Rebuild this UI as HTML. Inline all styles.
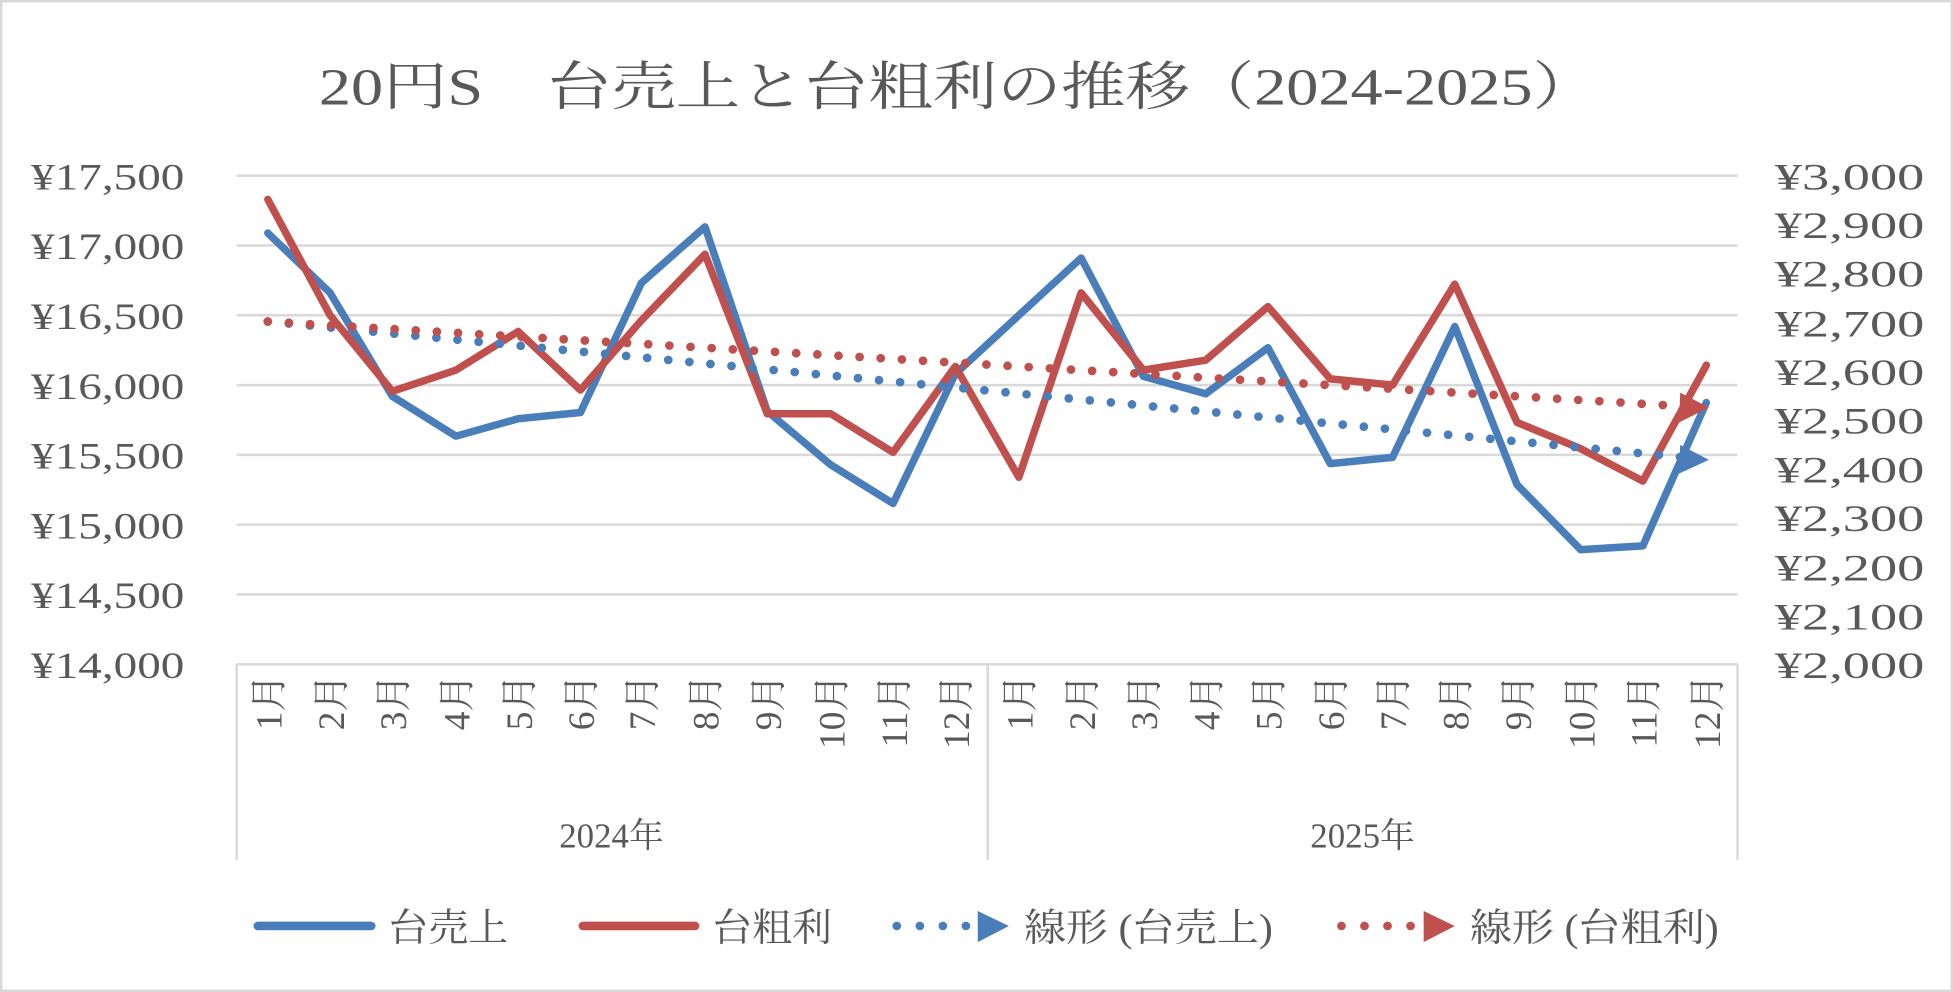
<!DOCTYPE html>
<html><head><meta charset="utf-8"><style>
html,body{margin:0;padding:0;background:#fff}
svg{display:block}
text{font-family:"Liberation Serif","Noto Serif CJK JP",serif;fill:#595959}
</style></head><body>
<svg width="1953" height="992" viewBox="0 0 1568 796" preserveAspectRatio="none" xmlns="http://www.w3.org/2000/svg">
<rect x="1" y="1" width="1566" height="794" fill="#fff" stroke="#d9d9d9" stroke-width="2"/>
<text x="256" y="84" font-size="42" textLength="1026" lengthAdjust="spacingAndGlyphs">20円S　台売上と台粗利の推移（2024-2025）</text>
<g stroke="#d9d9d9" stroke-width="2">
<line x1="190" y1="141" x2="1395" y2="141"/>
<line x1="190" y1="197" x2="1395" y2="197"/>
<line x1="190" y1="253" x2="1395" y2="253"/>
<line x1="190" y1="309" x2="1395" y2="309"/>
<line x1="190" y1="365" x2="1395" y2="365"/>
<line x1="190" y1="421" x2="1395" y2="421"/>
<line x1="190" y1="477" x2="1395" y2="477"/>
<line x1="190" y1="533" x2="1395" y2="533"/>
<line x1="190" y1="533" x2="190" y2="690"/>
<line x1="793" y1="533" x2="793" y2="690"/>
<line x1="1395" y1="533" x2="1395" y2="690"/>
</g>
<g font-size="30">
<text x="25" y="152" textLength="123" lengthAdjust="spacingAndGlyphs">¥17,500</text><text x="25" y="208" textLength="123" lengthAdjust="spacingAndGlyphs">¥17,000</text><text x="25" y="264" textLength="123" lengthAdjust="spacingAndGlyphs">¥16,500</text><text x="25" y="320" textLength="123" lengthAdjust="spacingAndGlyphs">¥16,000</text><text x="25" y="376" textLength="123" lengthAdjust="spacingAndGlyphs">¥15,500</text><text x="25" y="432" textLength="123" lengthAdjust="spacingAndGlyphs">¥15,000</text><text x="25" y="488" textLength="123" lengthAdjust="spacingAndGlyphs">¥14,500</text><text x="25" y="544" textLength="123" lengthAdjust="spacingAndGlyphs">¥14,000</text>
</g>
<g font-size="30">
<text x="1425" y="152" textLength="120" lengthAdjust="spacingAndGlyphs">¥3,000</text><text x="1425" y="191" textLength="120" lengthAdjust="spacingAndGlyphs">¥2,900</text><text x="1425" y="230" textLength="120" lengthAdjust="spacingAndGlyphs">¥2,800</text><text x="1425" y="270" textLength="120" lengthAdjust="spacingAndGlyphs">¥2,700</text><text x="1425" y="309" textLength="120" lengthAdjust="spacingAndGlyphs">¥2,600</text><text x="1425" y="348" textLength="120" lengthAdjust="spacingAndGlyphs">¥2,500</text><text x="1425" y="387" textLength="120" lengthAdjust="spacingAndGlyphs">¥2,400</text><text x="1425" y="426" textLength="120" lengthAdjust="spacingAndGlyphs">¥2,300</text><text x="1425" y="466" textLength="120" lengthAdjust="spacingAndGlyphs">¥2,200</text><text x="1425" y="505" textLength="120" lengthAdjust="spacingAndGlyphs">¥2,100</text><text x="1425" y="544" textLength="120" lengthAdjust="spacingAndGlyphs">¥2,000</text>
</g>
<g font-size="30" text-anchor="end">
<text transform="translate(226,541) rotate(-90)">1月</text>
<text transform="translate(276,541) rotate(-90)">2月</text>
<text transform="translate(326,541) rotate(-90)">3月</text>
<text transform="translate(377,541) rotate(-90)">4月</text>
<text transform="translate(427,541) rotate(-90)">5月</text>
<text transform="translate(477,541) rotate(-90)">6月</text>
<text transform="translate(526,541) rotate(-90)">7月</text>
<text transform="translate(577,541) rotate(-90)">8月</text>
<text transform="translate(627,541) rotate(-90)">9月</text>
<text transform="translate(678,541) rotate(-90)">10月</text>
<text transform="translate(728,541) rotate(-90)">11月</text>
<text transform="translate(778,541) rotate(-90)">12月</text>
<text transform="translate(829,541) rotate(-90)">1月</text>
<text transform="translate(879,541) rotate(-90)">2月</text>
<text transform="translate(929,541) rotate(-90)">3月</text>
<text transform="translate(979,541) rotate(-90)">4月</text>
<text transform="translate(1029,541) rotate(-90)">5月</text>
<text transform="translate(1079,541) rotate(-90)">6月</text>
<text transform="translate(1129,541) rotate(-90)">7月</text>
<text transform="translate(1179,541) rotate(-90)">8月</text>
<text transform="translate(1229,541) rotate(-90)">9月</text>
<text transform="translate(1280,541) rotate(-90)">10月</text>
<text transform="translate(1330,541) rotate(-90)">11月</text>
<text transform="translate(1381,541) rotate(-90)">12月</text>
</g>
<text x="491" y="680" font-size="28" text-anchor="middle">2024年</text>
<text x="1094" y="680" font-size="28" text-anchor="middle">2025年</text>
<polyline fill="none" stroke="#4a7ebb" stroke-width="6" stroke-linejoin="round" stroke-linecap="round" points="215,187 265,235 315,318 366,350 416,336 466,331 515,227 566,182 616,330 667,373 717,404 767,300 818,253 868,207 918,302 968,316 1018,279 1068,372 1118,367 1168,262 1218,389 1269,441 1319,438 1370,323"/>
<polyline fill="none" stroke="#c0504d" stroke-width="6" stroke-linejoin="round" stroke-linecap="round" points="215,160 265,253 315,314 366,297 416,266 466,313 515,257 566,204 616,332 667,332 717,363 767,294 818,383 868,235 918,297 968,289 1018,246 1068,304 1118,309 1168,228 1218,339 1269,360 1319,386 1370,293"/>
<line x1="215" y1="258" x2="1352" y2="367" stroke="#4a7ebb" stroke-width="7" stroke-linecap="round" stroke-dasharray="0 17"/>
<polygon points="1349,357 1372,369 1348,380" fill="#4a7ebb"/>
<line x1="215" y1="258" x2="1352" y2="326" stroke="#c0504d" stroke-width="7" stroke-linecap="round" stroke-dasharray="0 17"/>
<polygon points="1349,315 1372,327 1348,339" fill="#c0504d"/>
<line x1="207" y1="743" x2="298" y2="743" stroke="#4a7ebb" stroke-width="7" stroke-linecap="round"/>
<text x="312" y="755" font-size="31" textLength="96" lengthAdjust="spacingAndGlyphs">台売上</text>
<line x1="468" y1="743" x2="558" y2="743" stroke="#c0504d" stroke-width="7" stroke-linecap="round"/>
<text x="572" y="755" font-size="31" textLength="96" lengthAdjust="spacingAndGlyphs">台粗利</text>
<line x1="720" y1="743" x2="776" y2="743" stroke="#4a7ebb" stroke-width="7" stroke-linecap="round" stroke-dasharray="0 18.5"/>
<polygon points="785,731 810,743 785,756" fill="#4a7ebb"/>
<text x="822" y="755" font-size="31" textLength="200" lengthAdjust="spacingAndGlyphs">線形 (台売上)</text>
<line x1="1077" y1="743" x2="1133" y2="743" stroke="#c0504d" stroke-width="7" stroke-linecap="round" stroke-dasharray="0 18.5"/>
<polygon points="1143,731 1168,743 1143,756" fill="#c0504d"/>
<text x="1180" y="755" font-size="31" textLength="200" lengthAdjust="spacingAndGlyphs">線形 (台粗利)</text>
</svg>
</body></html>
